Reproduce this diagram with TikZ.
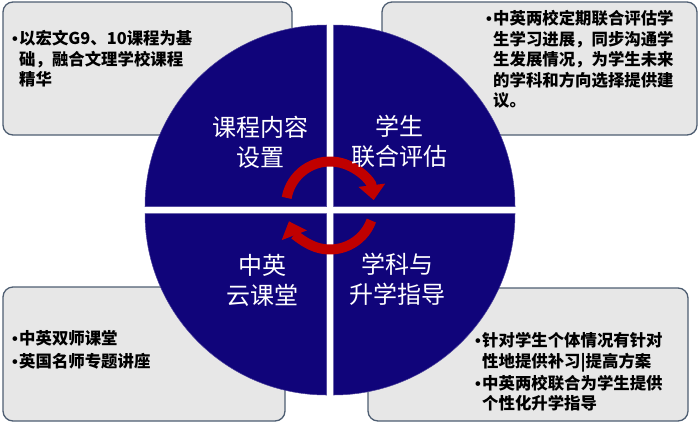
\documentclass[tikz,border=0pt]{standalone}
\usepackage{fontspec}
\setmainfont{Noto Sans CJK SC}
\newfontfamily\bulfont{Liberation Sans}
\usetikzlibrary{arrows.meta}
\definecolor{navy}{RGB}{16,4,122}
\definecolor{boxfill}{RGB}{231,231,231}
\definecolor{boxline}{RGB}{78,94,114}
\definecolor{arrowred}{RGB}{192,0,0}
\newcommand{\bul}{\makebox[7pt][l]{\bulfont •}}
\newcommand{\ind}{\hspace*{7pt}}
\begin{document}
\begin{tikzpicture}[x=1pt,y=-1pt,
  infobox/.style={draw=boxline,fill=boxfill,line width=1.3pt,rounded corners=10pt},
  quad/.style={fill=navy,draw=navy!75!white,line width=0.5pt},
  qlabel/.style={text=white,font=\fontsize{24}{30}\selectfont,align=center,inner sep=0pt},
  itemtext/.style={font=\bfseries\fontsize{16.4}{20.5}\selectfont,align=left,anchor=north west,inner sep=0pt},
  cyc/.style={draw=arrowred,line width=10pt,-{Triangle[width=26pt,length=15pt]}}]
\useasboundingbox (0,0) rectangle (700,426);
% info boxes
\draw[infobox] (3,2) rectangle (292,135);
\draw[infobox] (382,2) rectangle (697,135);
\draw[infobox] (3,287) rectangle (285,421);
\draw[infobox] (368,288) rectangle (688,421);
% quadrants
\filldraw[quad] (326.5,206.5) -- ++(180:181.5) arc[start angle=180,end angle=270,radius=181.5] -- cycle;
\filldraw[quad] (333.5,206.5) -- ++(270:181.5) arc[start angle=270,end angle=360,radius=181.5] -- cycle;
\filldraw[quad] (333.5,213.5) -- ++(0:181.5) arc[start angle=0,end angle=90,radius=181.5] -- cycle;
\filldraw[quad] (326.5,213.5) -- ++(90:181.5) arc[start angle=90,end angle=180,radius=181.5] -- cycle;
% cycle arrows
\coordinate (cc) at (330,205.5);
\draw[cyc] ([shift={(190:44)}]cc) arc[start angle=190,end angle=353,radius=44];
\draw[cyc] ([shift={(20:44)}]cc) arc[start angle=20,end angle=159,radius=44];
% quadrant labels
\node[qlabel] (q1) at (260,142) {课程内容\\设置};
\node[qlabel] (q2) at (399,141) {学生\\联合评估};
\node[qlabel] (q3) at (262,280) {中英\\云课堂};
\node[qlabel] (q4) at (397,279) {学科与\\升学指导};
% box texts
\node[itemtext] (t1) at (12,30.5) {\bul 以宏文G9、10课程为基\\\ind 础，融合文理学校课程\\\ind 精华};
\node[itemtext] (t2) at (486,10.5) {\bul 中英两校定期联合评估学\\\ind 生学习进展，同步沟通学\\\ind 生发展情况，为学生未来\\\ind 的学科和方向选择提供建\\\ind 议。};
\node[itemtext] (t3) at (12,330.5) {\bul 中英双师课堂\\[2.5pt]\bul 英国名师专题讲座};
\node[itemtext] (t4) at (475,332.5) {\bul 针对学生个体情况有针对\\\ind 性地提供补习|提高方案\\[1.5pt]\bul 中英两校联合为学生提供\\\ind 个性化升学指导};
\end{tikzpicture}
\end{document}
